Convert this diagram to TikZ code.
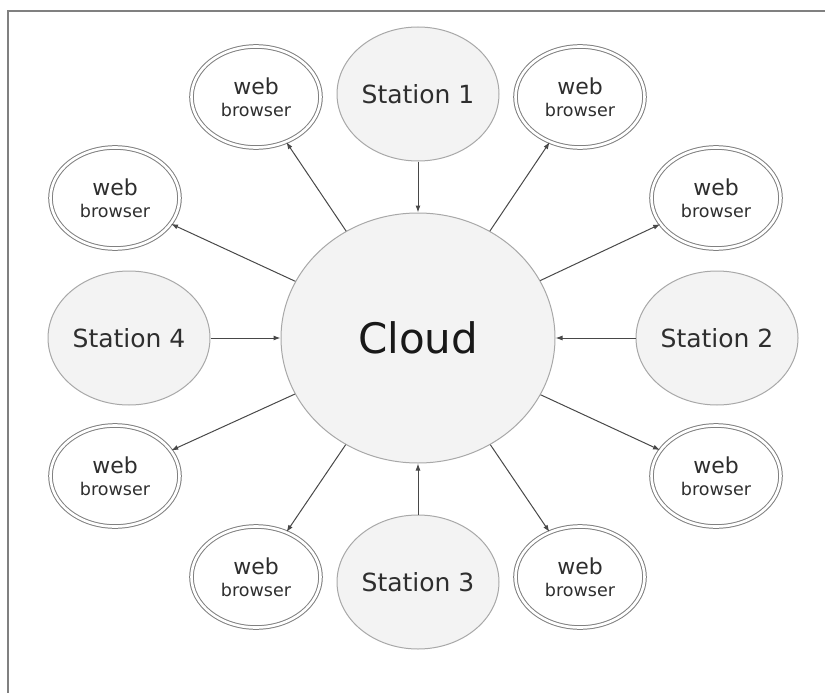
\documentclass[tikz,border=0pt]{standalone}
\usepackage{fontspec}
\setmainfont{DejaVu Sans}
\usepackage{tikz}
\usetikzlibrary{positioning}
\usetikzlibrary{shapes}
\usetikzlibrary{arrows.meta}
\tikzstyle{line} = [draw, -{Latex[length=7pt, width=5pt]}]
\definecolor{bordergray}{HTML}{A8A8A8}
\definecolor{fillgray}{HTML}{F3F3F3}
\definecolor{textgray}{HTML}{2E2E2E}
\definecolor{linegray}{HTML}{484848}

\begin{document}
\begin{tikzpicture}[x=1pt, y=-1pt,
				station/.style={ellipse, draw=bordergray, fill=fillgray, line width=1pt, inner sep=0pt, minimum width=162pt, minimum height=134pt, text=textgray, font=\fontsize{25}{30}\selectfont},
				browser/.style={ellipse, draw=gray, double=white, double distance=2.6pt, line width=1pt, inner sep=0pt, minimum width=129pt, minimum height=101pt, text=textgray, font=\fontsize{22}{22}\selectfont},
				every text node part/.style={align=center}]
				\useasboundingbox (0,0) rectangle (825,693);
				\draw[gray, line width=1.5pt] (825,11) -- (8,11) -- (8,693);
				
				\node[station, minimum width=274pt, minimum height=250pt, font=\fontsize{42}{50}\selectfont, text=black!90](node0) at (418,338) {Cloud};
				
				\node[station, above=51pt of node0](node1) {Station 1};
				\node[station, right=80pt of node0](node2) {Station 2};
				\node[station, below=51pt of node0](node3) {Station 3};
				\node[station, left=70pt of node0](node4) {Station 4};
				
				\node[browser](node11) at (256,97) {web\\{\fontsize{17.5}{20}\selectfont browser}};
				\node[browser](node12) at (580,97) {web\\{\fontsize{17.5}{20}\selectfont browser}};
				\node[browser](node21) at (716,198) {web\\{\fontsize{17.5}{20}\selectfont browser}};
				\node[browser](node22) at (716,476) {web\\{\fontsize{17.5}{20}\selectfont browser}};
				\node[browser](node31) at (580,577) {web\\{\fontsize{17.5}{20}\selectfont browser}};
				\node[browser](node32) at (256,577) {web\\{\fontsize{17.5}{20}\selectfont browser}};
				\node[browser](node41) at (115,476) {web\\{\fontsize{17.5}{20}\selectfont browser}};
				\node[browser](node42) at (115,198) {web\\{\fontsize{17.5}{20}\selectfont browser}};
				
				\draw[line, linegray, line width=1pt] (node1) edge (node0);
				\draw[line, linegray, line width=1pt] (node2) edge (node0);
				\draw[line, linegray, line width=1pt] (node3) edge (node0);
				\draw[line, linegray, line width=1pt] (node4) edge (node0);
				
				\draw[line, linegray, line width=1pt] (node0) edge (node11);
				\draw[line, linegray, line width=1pt] (node0) edge (node12);
				\draw[line, linegray, line width=1pt] (node0) edge (node21);
				\draw[line, linegray, line width=1pt] (node0) edge (node22);
				\draw[line, linegray, line width=1pt] (node0) edge (node31);
				\draw[line, linegray, line width=1pt] (node0) edge (node32);
				\draw[line, linegray, line width=1pt] (node0) edge (node41);
				\draw[line, linegray, line width=1pt] (node0) edge (node42);
			\end{tikzpicture}
\end{document}
